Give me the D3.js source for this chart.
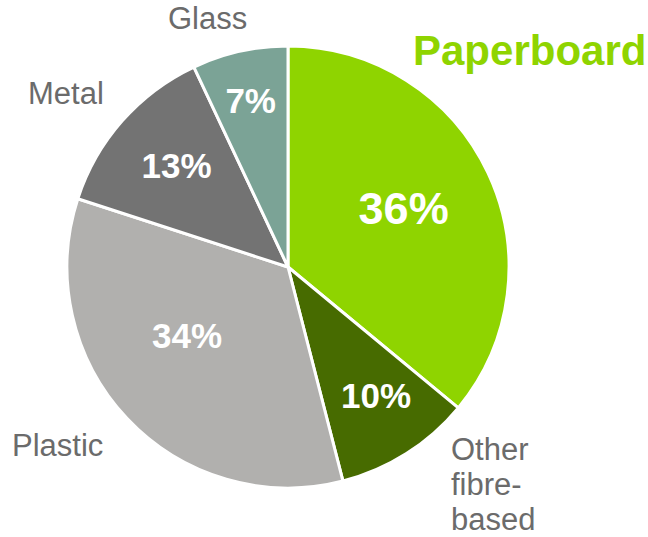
<!DOCTYPE html>
<html>
<head>
<meta charset="utf-8">
<script src="https://cdn.jsdelivr.net/npm/d3@7"></script>
<style>
  html, body { margin: 0; padding: 0; background: #fff; }
  svg { display: block; }
</style>
</head>
<body>
<svg id="chart" width="648" height="537"></svg>
<script>
// ---- data ----
const categories = ["Paperboard", "Other fibre-based", "Plastic", "Metal", "Glass"];
const shares = [36, 10, 34, 13, 7];
const valueLabels = ["36%", "10%", "34%", "13%", "7%"];
const nameLines = [["Paperboard"], ["Other", "fibre-", "based"], ["Plastic"], ["Metal"], ["Glass"]];

// ---- styling / layout ----
const colors = ["#8fd400", "#476b00", "#b1b0ae", "#737373", "#7ba396"];
const cx = 288, cy = 267, R = 221;
const valueRadius = [130, 156, 122, 151, 171];
const valueAngleShift = [-2, -2, 9, 1, 0]; // degrees
const valueFont = [45, 35, 35, 35, 35];
const namePos = [
  {x: 413, y: 65, anchor: "start"},
  {x: 451, y: 460, anchor: "start"},
  {x: 12, y: 456, anchor: "start"},
  {x: 28, y: 104, anchor: "start"},
  {x: 168, y: 29, anchor: "start"}
];

const svg = d3.select("#chart");
const g = svg.append("g").attr("transform", `translate(${cx},${cy})`);

const pie = d3.pie().sort(null).value(d => d)(shares);
const arc = d3.arc().innerRadius(0).outerRadius(R);

g.selectAll("path.slice")
  .data(pie)
  .join("path")
  .attr("class", "slice")
  .attr("d", arc)
  .attr("fill", (d, i) => colors[i])
  .attr("stroke", "#fff")
  .attr("stroke-width", 3)
  .attr("stroke-linejoin", "round");

g.selectAll("text.val")
  .data(pie)
  .join("text")
  .attr("class", "val")
  .attr("transform", (d, i) => {
    const a = (d.startAngle + d.endAngle) / 2 + valueAngleShift[i] * Math.PI / 180;
    const r = valueRadius[i];
    return `translate(${r * Math.sin(a)},${-r * Math.cos(a)})`;
  })
  .attr("text-anchor", "middle")
  .attr("dy", "0.36em")
  .attr("fill", "#fff")
  .attr("font-family", "'Liberation Sans', Arial, sans-serif")
  .attr("font-weight", "bold")
  .attr("font-size", (d, i) => valueFont[i])
  .text((d, i) => valueLabels[i]);

categories.forEach((c, i) => {
  const t = svg.append("text")
    .attr("x", namePos[i].x)
    .attr("y", namePos[i].y)
    .attr("text-anchor", namePos[i].anchor)
    .attr("font-family", "'Liberation Sans', Arial, sans-serif")
    .attr("font-size", i === 0 ? 42 : 31)
    .attr("font-weight", i === 0 ? "bold" : "normal")
    .attr("fill", i === 0 ? "#8fd400" : "#6b6b6b");
  nameLines[i].forEach((line, j) => {
    t.append("tspan").attr("x", namePos[i].x).attr("dy", j === 0 ? 0 : 35).text(line);
  });
});
</script>
</body>
</html>
